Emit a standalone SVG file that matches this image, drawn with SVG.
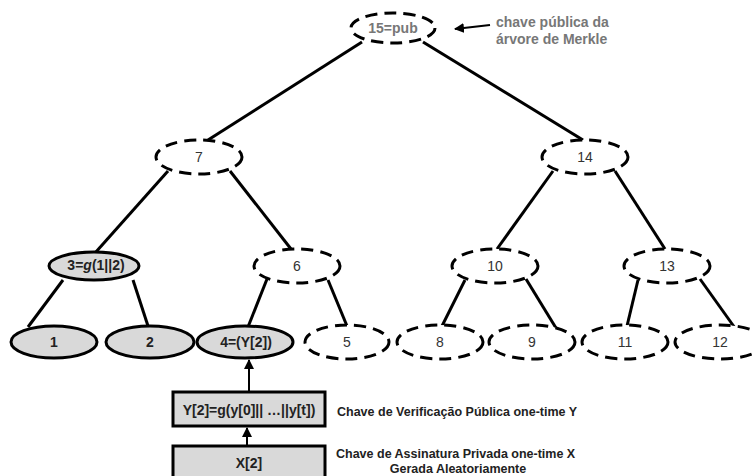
<svg xmlns="http://www.w3.org/2000/svg" width="753" height="476" viewBox="0 0 753 476">
<defs>
<marker id="ah" viewBox="0 0 10 10" refX="9" refY="5" markerWidth="5" markerHeight="5" orient="auto"><path d="M0,0 L10,5 L0,10 z" fill="#000"/></marker>
<style>
.dn{fill:#fff;stroke:#000;stroke-width:3;stroke-dasharray:12 7}
.sn{fill:#d9d9d9;stroke:#000;stroke-width:3}
.bx{fill:#d9d9d9;stroke:#000;stroke-width:3}
.e{stroke:#000;stroke-width:3;fill:none}
.a{stroke:#000;stroke-width:2;fill:none;marker-end:url(#ah)}
.t{font-family:"Liberation Sans",Arial,sans-serif;font-size:14px;fill:#333;text-anchor:middle}
.b{font-family:"Liberation Sans",Arial,sans-serif;font-size:14px;font-weight:bold;fill:#222;text-anchor:middle}
.g{font-family:"Liberation Sans",Arial,sans-serif;font-size:14px;font-weight:bold;fill:#777}
.l{font-family:"Liberation Sans",Arial,sans-serif;font-size:12.5px;font-weight:bold;fill:#222}
</style>
</defs>
<rect width="753" height="476" fill="#fff"/>
<g id="connectors">
<line class="e" x1="362" y1="42" x2="208" y2="140"/>
<line class="e" x1="423" y1="42" x2="583" y2="140"/>
<line class="e" x1="168" y1="171" x2="95" y2="253"/>
<line class="e" x1="230" y1="171" x2="291" y2="249"/>
<line class="e" x1="553" y1="171" x2="497" y2="249"/>
<line class="e" x1="615" y1="171" x2="665" y2="249"/>
<line class="e" x1="63" y1="280" x2="28" y2="327"/>
<line class="e" x1="133" y1="280" x2="148" y2="326"/>
<line class="e" x1="267" y1="279" x2="248" y2="327"/>
<line class="e" x1="328" y1="280" x2="347" y2="326"/>
<line class="e" x1="465" y1="280" x2="442" y2="326"/>
<line class="e" x1="526" y1="279" x2="556" y2="328"/>
<line class="e" x1="638" y1="280" x2="627" y2="326"/>
<line class="e" x1="700" y1="279" x2="735" y2="328"/>
<line class="a" x1="249" y1="392" x2="249" y2="360"/>
<line class="a" x1="247" y1="446" x2="247" y2="428"/>
<line class="a" x1="490" y1="25" x2="455" y2="29"/>
</g>
<g id="n15"><ellipse class="dn" cx="393" cy="28" rx="42" ry="15"/><text class="g" x="393" y="33" text-anchor="middle">15=pub</text></g>
<g id="note"><text class="g" x="496" y="27">chave pública da</text><text class="g" x="496" y="44">árvore de Merkle</text></g>
<g id="n7"><ellipse class="dn" cx="199" cy="157" rx="43" ry="17"/><text class="t" x="199" y="162">7</text></g>
<g id="n14"><ellipse class="dn" cx="585" cy="157" rx="43" ry="17"/><text class="t" x="585" y="162">14</text></g>
<g id="n3"><ellipse class="sn" cx="94" cy="266" rx="45" ry="14"/><text class="b" x="96" y="270" font-size="12.5">3=<tspan font-style="italic">g</tspan>(1||2)</text></g>
<g id="n6"><ellipse class="dn" cx="297" cy="266" rx="43" ry="17"/><text class="t" x="297" y="271">6</text></g>
<g id="n10"><ellipse class="dn" cx="495" cy="266" rx="43" ry="17"/><text class="t" x="495" y="271">10</text></g>
<g id="n13"><ellipse class="dn" cx="667" cy="266" rx="43" ry="17"/><text class="t" x="667" y="271">13</text></g>
<g id="n1"><ellipse class="sn" cx="54" cy="342" rx="43" ry="16"/><text class="b" x="54" y="347">1</text></g>
<g id="n2"><ellipse class="sn" cx="150" cy="342" rx="44" ry="16"/><text class="b" x="150" y="347">2</text></g>
<g id="n4"><ellipse class="sn" cx="245" cy="342" rx="48" ry="16"/><text class="b" x="246" y="347">4=(Y[2])</text></g>
<g id="n5"><ellipse class="dn" cx="347" cy="342" rx="42" ry="17"/><text class="t" x="347" y="347">5</text></g>
<g id="n8"><ellipse class="dn" cx="440" cy="342" rx="43" ry="17"/><text class="t" x="440" y="347">8</text></g>
<g id="n9"><ellipse class="dn" cx="532" cy="342" rx="43" ry="17"/><text class="t" x="532" y="347">9</text></g>
<g id="n11"><ellipse class="dn" cx="625" cy="342" rx="43" ry="17"/><text class="t" x="625" y="347">11</text></g>
<g id="n12"><ellipse class="dn" cx="720" cy="342" rx="45" ry="17"/><text class="t" x="720" y="347">12</text></g>
<g id="boxY"><rect class="bx" x="173" y="392" width="152" height="34"/><text class="b" x="249" y="415" font-size="13">Y[2]=g(y[0]|| …||y[t])</text></g>
<g id="boxX"><rect class="bx" x="173" y="446" width="152" height="34"/><text class="b" x="249" y="468" font-size="13">X[2]</text></g>
<g id="labels">
<text class="l" x="337" y="416">Chave de Verificação Pública one-time Y</text>
<text class="l" x="336" y="458">Chave de Assinatura Privada one-time X</text>
<text class="l" x="458" y="473" text-anchor="middle">Gerada Aleatoriamente</text>
</g>
</svg>
